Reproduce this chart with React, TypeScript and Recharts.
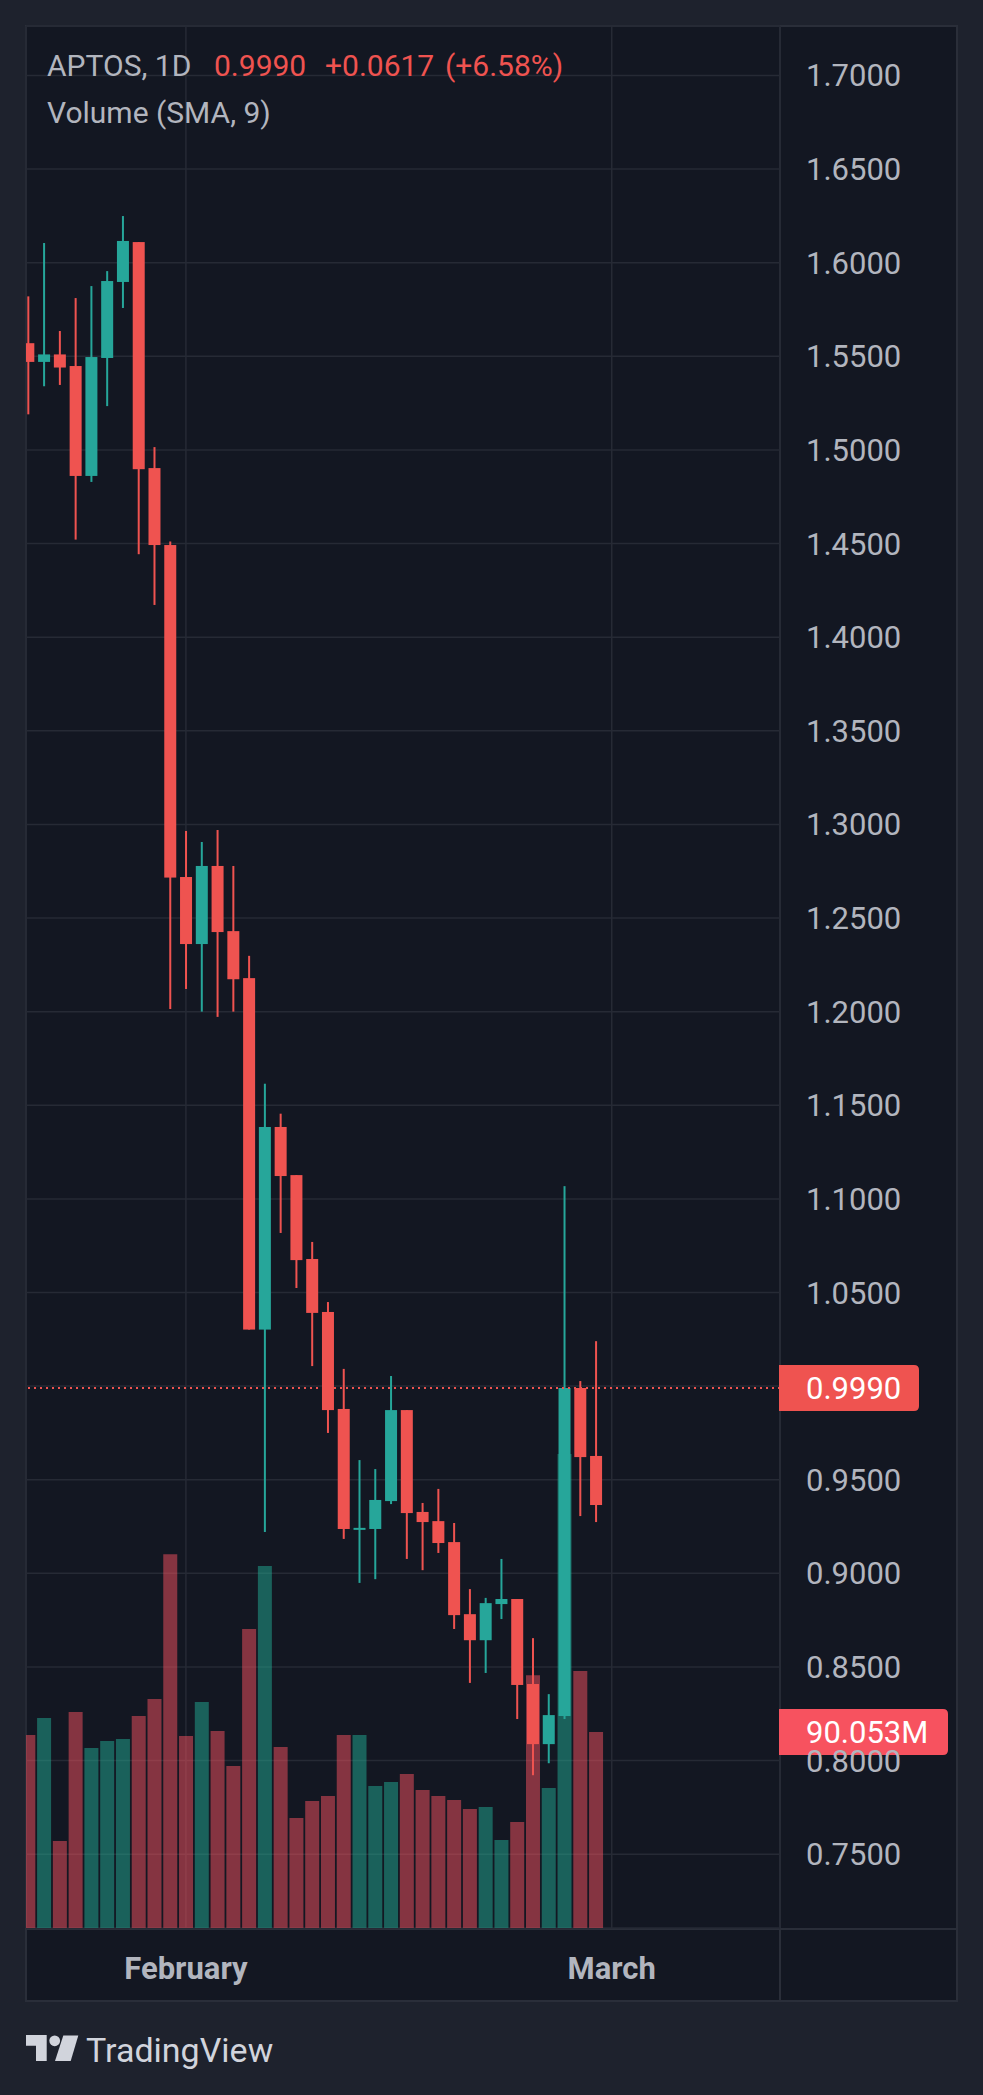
import { Bar, CartesianGrid, Cell, ComposedChart, ReferenceLine, XAxis, YAxis } from "recharts";

// daily candles, APTOS 1D (index 0 = first visible bar)
const opens = [
	1.557, 1.547, 1.551, 1.5448, 1.4861, 1.5491, 1.5897, 1.611, 1.4903, 1.4492, 1.2719, 1.2361, 1.2778,
	1.243, 1.2179, 1.0302, 1.1384, 1.1127, 1.0679, 1.0396, 0.9878, 0.9237, 0.9237, 0.9386, 0.9872, 0.9328,
	0.9279, 0.9167, 0.8782, 0.8643, 0.8836, 0.8863, 0.8409, 0.8088, 0.8238, 0.999, 0.9627,
];
const highs = [
	1.582, 1.6105, 1.5635, 1.5811, 1.5875, 1.5955, 1.6249, 1.611, 1.5015, 1.4511, 1.2965, 1.2906, 1.297,
	1.2778, 1.2298, 1.1615, 1.1455, 1.1127, 1.077, 1.0449, 1.0092, 0.9605, 0.9557, 1.0054, 0.9872, 0.9376,
	0.9451, 0.9269, 0.8916, 0.8869, 0.9077, 0.8863, 0.8654, 0.8355, 1.1068, 1.0027, 1.024,
];
const lows = [
	1.519, 1.534, 1.5347, 1.4521, 1.4829, 1.5234, 1.5758, 1.4443, 1.4172, 1.2014, 1.2121, 1.2, 1.1972,
	1.2, 1.0302, 0.9221, 1.0818, 1.0524, 1.0107, 0.975, 0.9184, 0.8949, 0.8969, 0.937, 0.9077, 0.9017,
	0.9109, 0.8703, 0.8415, 0.8468, 0.8756, 0.8222, 0.7922, 0.7986, 0.8222, 0.9306, 0.9274,
];
const closes = [
	1.547, 1.551, 1.544, 1.4861, 1.5496, 1.5902, 1.6116, 1.4897, 1.4492, 1.2716, 1.2361, 1.2778, 1.2425,
	1.2173, 1.0302, 1.1384, 1.1122, 1.0673, 1.0391, 0.9872, 0.9237, 0.9243, 0.9392, 0.9872, 0.9322, 0.9274,
	0.9162, 0.8777, 0.8643, 0.8841, 0.8863, 0.8404, 0.8088, 0.8243, 0.999, 0.9621, 0.9365,
];
// volume, millions
const volumes = [
	88.7, 96.5, 40.0, 99.2, 82.7, 85.9, 86.8, 97.4, 105.2, 171.8, 88.2, 103.8, 90.5, 74.4, 137.4, 166.3,
	83.2, 50.5, 58.4, 60.6, 88.7, 88.7, 65.2, 67.1, 70.8, 63.4, 60.6, 58.8, 54.7, 55.6, 40.4, 48.7, 116.2,
	64.3, 217.8, 118.1, 90.053,
];
const priceTicks = [
	0.75, 0.8, 0.85, 0.9, 0.95, 1.0, 1.05, 1.1, 1.15, 1.2, 1.25, 1.3, 1.35, 1.4, 1.45, 1.5, 1.55, 1.6, 1.65, 1.7,
];
const monthTicks = [10, 37];
const monthLabels = ["February", "March"];
const lastPrice = 0.999;
const lastVolume = 90.053;

const UP = "#26a69a";
const DOWN = "#ef5350";
const VOL_UP = "rgba(34,171,148,0.5)";
const VOL_DOWN = "rgba(247,82,95,0.5)";
const GRID = "#262a35";
const FRAME = "#2a2e39";
const TEXT = "#b2b5be";
const FONT = "Roboto, 'Noto Sans', sans-serif";

const rows = opens.map((open, i) => ({
	i,
	open,
	high: highs[i],
	low: lows[i],
	close: closes[i],
	vol: volumes[i],
	up: closes[i] >= open,
}));

function Candle(props: any) {
	const { x, y, width, height, payload } = props;
	if (height == null || !payload) return null;
	const top = Math.min(y, y + height);
	const span = Math.abs(height);
	const { open, close, high, low } = payload;
	const k = span / (high - low);
	const cx = x + width / 2;
	const bodyTop = top + (high - Math.max(open, close)) * k;
	const bodyH = Math.max(Math.abs(close - open) * k, 2);
	const color = close >= open ? UP : DOWN;
	return (
		<g>
			<rect x={cx - 1} y={top} width={2} height={span} fill={color} />
			<rect x={x} y={bodyTop} width={width} height={bodyH} fill={color} />
		</g>
	);
}

function PriceTick({ x, y, payload }: any) {
	const v = Number(payload.value);
	// the last-price tag hides the label it sits on
	if (Math.abs(v - lastPrice) < 0.02) return null;
	return (
		<text x={x} y={y + 11} fill={TEXT} fontSize={31} fontFamily={FONT}>
			{v.toFixed(4)}
		</text>
	);
}

function MonthTick({ x, y, payload }: any) {
	const label = monthLabels[monthTicks.indexOf(payload.value)];
	return (
		<text x={x} y={y + 51} fill={TEXT} fontSize={31} fontWeight={700} fontFamily={FONT} textAnchor="middle">
			{label}
		</text>
	);
}

function Tag({ viewBox, text, fill, w }: any) {
	if (!viewBox) return null;
	const x = viewBox.x + viewBox.width - 1;
	const y = viewBox.y;
	const h = 23;
	const d = `M${x},${y - h} H${x + w - 5} Q${x + w},${y - h} ${x + w},${y - h + 5} V${y + h - 5} Q${x + w},${y + h} ${x + w - 5},${y + h} H${x} Z`;
	return (
		<g>
			<path d={d} fill={fill} />
			<text x={x + 27} y={y + 11} fill="#ffffff" fontSize={31} fontFamily={FONT}>
				{text}
			</text>
		</g>
	);
}

export default function App() {
	return (
		<div style={{ position: "relative", width: 983, height: 2095, background: "#1e222d", overflow: "hidden" }}>
			<style>{"body{margin:0}"}</style>
			<div
				style={{
					position: "absolute",
					left: 25,
					top: 25,
					width: 933,
					height: 1977,
					boxSizing: "border-box",
					border: `2px solid ${FRAME}`,
					background: "#131722",
				}}
			/>
			<div style={{ position: "absolute", left: 779, top: 25, width: 2, height: 1977, background: FRAME }} />
			<div style={{ position: "absolute", left: 25, top: 1928, width: 933, height: 2, background: FRAME }} />
			<div style={{ position: "absolute", left: 0, top: 0 }}>
				<ComposedChart width={983} height={2095} data={rows} margin={{ top: 26, right: 26, bottom: 94, left: 26 }}>
					<CartesianGrid xAxisId="x" yAxisId="price" stroke={GRID} strokeWidth={1.5} />
					<XAxis
						xAxisId="x"
						dataKey="i"
						type="number"
						domain={[-0.14, 47.67]}
						allowDataOverflow
						ticks={monthTicks}
						interval={0}
						height={73}
						axisLine={false}
						tickLine={false}
						tickSize={0}
						tickMargin={0}
						tick={<MonthTick />}
					/>
					<XAxis xAxisId="xv" dataKey="i" type="number" domain={[-0.14, 47.67]} allowDataOverflow hide />
					<YAxis
						yAxisId="price"
						orientation="right"
						domain={[0.7106, 1.7264]}
						allowDataOverflow
						ticks={priceTicks}
						interval={0}
						width={177}
						axisLine={false}
						tickLine={false}
						tickSize={0}
						tickMargin={26}
						tick={<PriceTick />}
					/>
					<YAxis yAxisId="vol" orientation="right" domain={[0, 874]} allowDataOverflow hide />
					<Bar xAxisId="xv" yAxisId="vol" dataKey="vol" barSize={14} isAnimationActive={false}>
						{rows.map((r) => (
							<Cell key={r.i} fill={r.up ? VOL_UP : VOL_DOWN} />
						))}
					</Bar>
					<Bar
						xAxisId="x"
						yAxisId="price"
						dataKey={(d: any) => [d.low, d.high]}
						barSize={12}
						shape={<Candle />}
						isAnimationActive={false}
					/>
					<ReferenceLine
						xAxisId="x"
						yAxisId="price"
						y={lastPrice}
						stroke={DOWN}
						strokeWidth={2}
						strokeDasharray="2 4"
						label={<Tag text={lastPrice.toFixed(4)} fill={DOWN} w={140} />}
					/>
					<ReferenceLine
						xAxisId="xv"
						yAxisId="vol"
						y={lastVolume}
						stroke="none"
						label={<Tag text={`${lastVolume.toFixed(3)}M`} fill="#f7525f" w={169} />}
					/>
				</ComposedChart>
			</div>
			<svg
				width={983}
				height={2095}
				style={{ position: "absolute", left: 0, top: 0, pointerEvents: "none" }}
				fontFamily={FONT}
			>
				<text x={47} y={76} fontSize={30} fill={TEXT}>
					APTOS, 1D
				</text>
				<text x={214} y={76} fontSize={30} fill={DOWN}>
					0.9990
				</text>
				<text x={325} y={76} fontSize={30} fill={DOWN}>
					+0.0617
				</text>
				<text x={445} y={76} fontSize={30} fill={DOWN}>
					(+6.58%)
				</text>
				<text x={47} y={123} fontSize={30} fill={TEXT}>
					Volume (SMA, 9)
				</text>
				<g fill="#d1d4dc">
					<path d="M26,2035 H46.7 V2061 H36 V2045.7 H26 Z" />
					<circle cx={54.7} cy={2040.8} r={5.4} />
					<path d="M63.3,2035.5 H78.3 L70.7,2061 H55 Z" />
				</g>
				<text x={86} y={2062} fontSize={34} fill="#d1d4dc">
					TradingView
				</text>
			</svg>
		</div>
	);
}
